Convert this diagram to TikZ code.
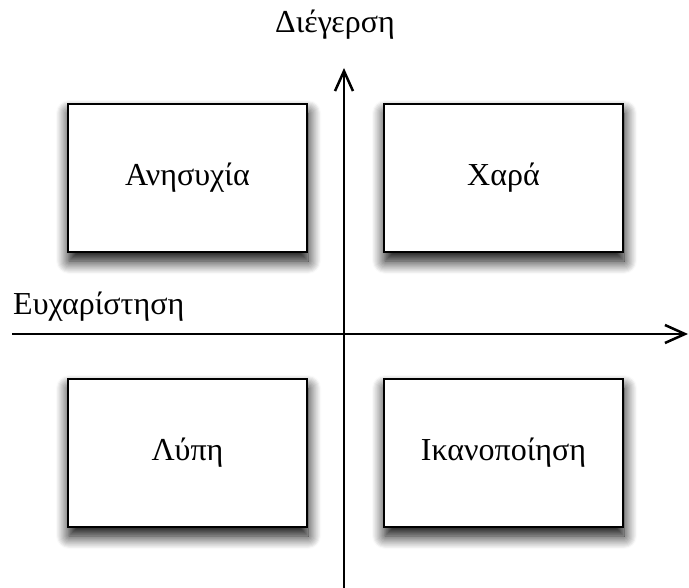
\documentclass[tikz,border=0pt]{standalone}
\usepackage{fontspec}
\setmainfont{Liberation Serif}
\usetikzlibrary{arrows.meta,shadows.blur}
\begin{document}
\begin{tikzpicture}[x=1pt,y=-1pt,
  quadbox/.style={draw=black, line width=2.5pt, fill=white,
    minimum width=239pt, minimum height=148pt, inner sep=0pt,
    font=\fontsize{32}{36}\selectfont,
    blur shadow={shadow xshift=1pt, shadow yshift=-9pt,
      shadow blur radius=13pt, shadow blur steps=12, shadow opacity=100}},
  axis/.style={line width=2.5pt, -{Straight Barb[length=20pt,width=18pt,line width=2.5pt]}},
  axislabel/.style={font=\fontsize{32}{36}\selectfont, inner sep=0pt}]
  \useasboundingbox (0,0) rectangle (689,588);

  % quadrant boxes
  \node[quadbox] (worry) at (187.5,178) {Ανησυχία};
  \node[quadbox] (joy) at (503.5,178) {Χαρά};
  \node[quadbox] (sad) at (187.5,453) {Λύπη};
  \node[quadbox] (content) at (503.5,453) {Ικανοποίηση};

  % axes
  \coordinate (vbot) at (344,588);
  \coordinate (vtop) at (344,68);
  \coordinate (hleft) at (12,334);
  \coordinate (hright) at (688,334);
  \draw[axis] (vbot) -- (vtop);
  \draw[axis] (hleft) -- (hright);

  % axis labels
  \node[axislabel, anchor=base] (arousal) at (335,33) {Διέγερση};
  \node[axislabel, anchor=base west] (pleasure) at (13,315) {Ευχαρίστηση};
\end{tikzpicture}
\end{document}
